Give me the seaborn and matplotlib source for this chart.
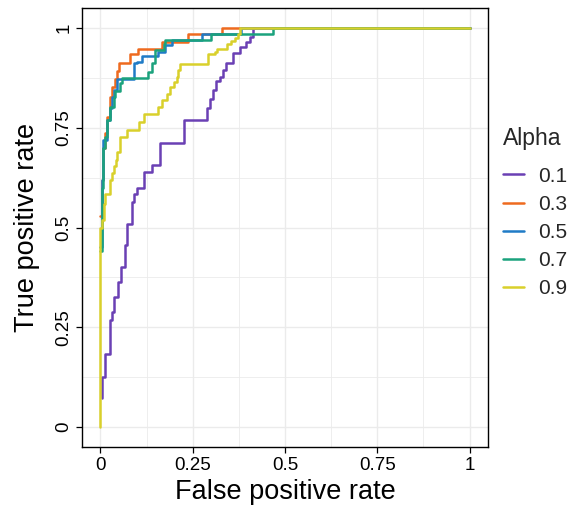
import numpy as np
import pandas as pd
import matplotlib
matplotlib.use("Agg")
import matplotlib.pyplot as plt
import seaborn as sns

# ---- data (step-curve corner points) ----
alpha_levels = ["0.1", "0.3", "0.5", "0.7", "0.9"]

fpr_01 = [0.005, 0.005, 0.011, 0.027, 0.030, 0.038, 0.047, 0.055, 0.066, 0.072, 0.085, 0.090,
          0.099, 0.117, 0.139, 0.162, 0.225, 0.288, 0.296, 0.305, 0.314, 0.323, 0.332, 0.341,
          0.359, 0.378, 0.395, 0.405, 0.414, 1.0]
tpr_01 = [0.072, 0.125, 0.183, 0.268, 0.289, 0.327, 0.364, 0.400, 0.456, 0.510, 0.565, 0.585,
          0.600, 0.640, 0.657, 0.711, 0.770, 0.800, 0.823, 0.845, 0.866, 0.878, 0.895, 0.911,
          0.936, 0.953, 0.966, 0.978, 1.0, 1.0]

fpr_03 = [0.0, 0.003, 0.008, 0.013, 0.018, 0.027, 0.032, 0.040, 0.045, 0.049, 0.081, 0.103,
          0.166, 0.238, 0.328, 1.0]
tpr_03 = [0.53, 0.62, 0.70, 0.737, 0.778, 0.828, 0.852, 0.873, 0.893, 0.912, 0.935, 0.948,
          0.965, 0.985, 1.0, 1.0]

fpr_05 = [0.0, 0.003, 0.008, 0.018, 0.025, 0.031, 0.036, 0.045, 0.090, 0.099, 0.112, 0.157,
          0.175, 0.193, 0.274, 0.382, 1.0]
tpr_05 = [0.45, 0.62, 0.72, 0.770, 0.800, 0.828, 0.845, 0.872, 0.912, 0.915, 0.929, 0.941,
          0.958, 0.969, 0.985, 1.0, 1.0]

fpr_07 = [0.0, 0.003, 0.008, 0.013, 0.018, 0.027, 0.036, 0.040, 0.054, 0.058, 0.130, 0.139,
          0.148, 0.148, 0.171, 0.175, 0.300, 0.467, 1.0]
tpr_07 = [0.44, 0.60, 0.70, 0.728, 0.770, 0.803, 0.828, 0.841, 0.862, 0.874, 0.890, 0.912,
          0.933, 0.945, 0.960, 0.969, 0.985, 1.0, 1.0]

fpr_09 = [0.0, 0.0, 0.005, 0.009, 0.013, 0.027, 0.032, 0.036, 0.041, 0.045, 0.054, 0.072,
          0.104, 0.117, 0.157, 0.166, 0.180, 0.189, 0.198, 0.207, 0.211, 0.216, 0.292, 0.310,
          0.315, 0.342, 0.355, 0.364, 0.373, 0.378, 1.0]
tpr_09 = [0.0, 0.50, 0.52, 0.56, 0.585, 0.619, 0.636, 0.653, 0.669, 0.690, 0.728, 0.744,
          0.765, 0.785, 0.803, 0.820, 0.835, 0.852, 0.865, 0.877, 0.895, 0.910, 0.935, 0.940,
          0.948, 0.960, 0.968, 0.975, 0.985, 1.0, 1.0]

series_fpr = [fpr_01, fpr_03, fpr_05, fpr_07, fpr_09]
series_tpr = [tpr_01, tpr_03, tpr_05, tpr_07, tpr_09]
colors = ["#6a40b4", "#ee6a1f", "#1f7bc6", "#1ba27d", "#d9d02b"]

x_ticks = [0, 0.25, 0.5, 0.75, 1]
x_ticklabels = ["0", "0.25", "0.5", "0.75", "1"]
y_ticks = [0, 0.25, 0.5, 0.75, 1]
y_ticklabels = ["0", "0.25", "0.5", "0.75", "1"]

frames = []
for lvl, fx, ty in zip(alpha_levels, series_fpr, series_tpr):
    frames.append(pd.DataFrame({"fpr": fx, "tpr": ty, "Alpha": lvl}))
df = pd.concat(frames, ignore_index=True)

# ---- style ----
sns.set_theme(style="white")
plt.rcParams["font.family"] = ["Liberation Sans", "DejaVu Sans"]

fig = plt.figure(figsize=(5.8, 5.12), dpi=100)
ax = fig.add_axes([82 / 580, 1 - 447 / 512, (488 - 82) / 580, (447 - 8) / 512])

# grid (major + minor)
for v in np.arange(0, 1.01, 0.125):
    major = abs(v * 4 - round(v * 4)) < 1e-9
    ax.axvline(v, color="#ebebeb", lw=1.0 if major else 0.6, zorder=0)
    ax.axhline(v, color="#ebebeb", lw=1.0 if major else 0.6, zorder=0)

sns.lineplot(data=df, x="fpr", y="tpr", hue="Alpha", hue_order=alpha_levels,
             palette=dict(zip(alpha_levels, colors)), estimator=None, sort=False,
             units="Alpha", drawstyle="steps-post", linewidth=1.8, ax=ax, legend=True)

ax.set_xlim(-0.05, 1.05)
ax.set_ylim(-0.05, 1.05)
ax.set_xticks(x_ticks)
ax.set_xticklabels(x_ticklabels)
ax.set_yticks(y_ticks)
ax.set_yticklabels(y_ticklabels, rotation=90, va="center")
ax.tick_params(axis="both", which="major", direction="out", length=4, width=0.9,
               color="black", labelsize=13.5, labelcolor="black", bottom=True, left=True, pad=3)
for s in ax.spines.values():
    s.set_visible(True)
    s.set_color("black")
    s.set_linewidth(1.0)

ax.set_xlabel("False positive rate", fontsize=19.5, color="black", labelpad=4)
ax.set_ylabel("True positive rate", fontsize=19.5, color="black", labelpad=11)

handles, labels = ax.get_legend_handles_labels()
if ax.legend_:
    ax.legend_.remove()
leg = fig.legend(handles, labels, title="Alpha", loc="upper left",
                 bbox_to_anchor=(503 / 580, 1 - 127 / 512), frameon=False,
                 borderpad=0, borderaxespad=0,
                 fontsize=15, title_fontsize=16.5, handlelength=1.0, handletextpad=0.68,
                 labelspacing=0.44, alignment="left")
leg._legend_box.sep = 12
for lh in leg.get_lines():
    lh.set_linewidth(1.8)

fig.savefig("out.png", dpi=100)
